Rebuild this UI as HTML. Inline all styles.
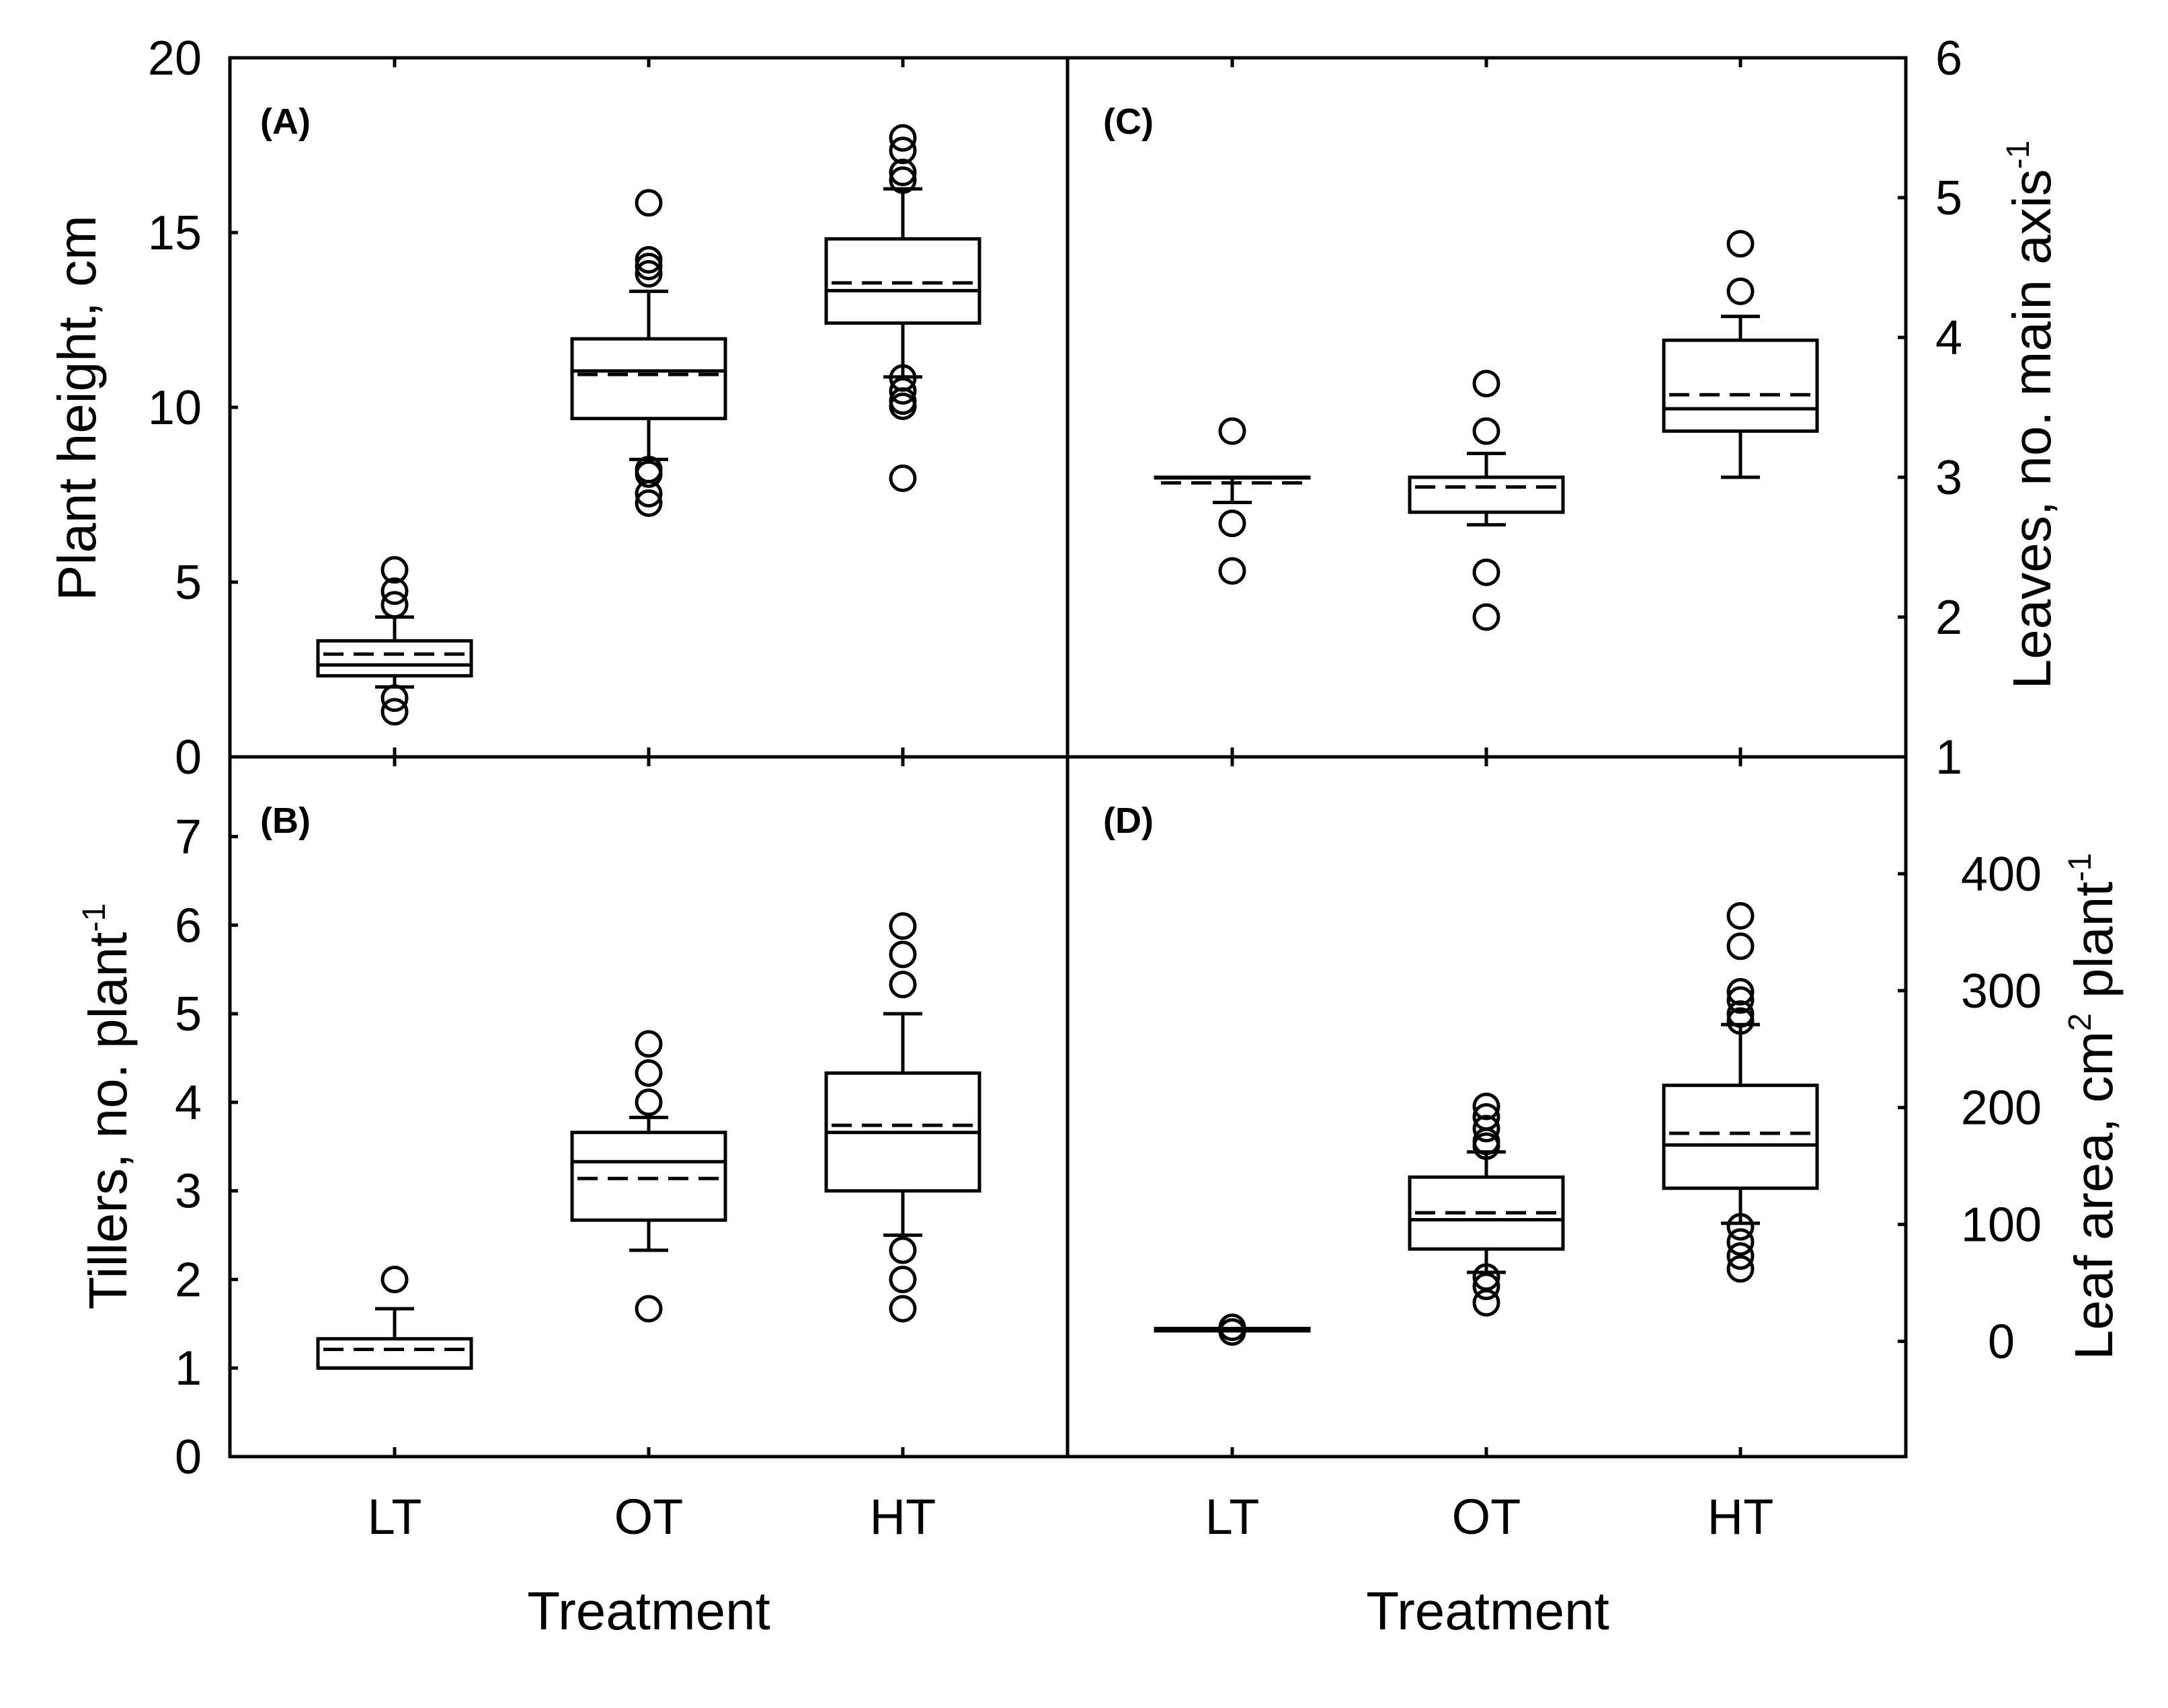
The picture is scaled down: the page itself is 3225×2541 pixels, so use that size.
<!DOCTYPE html>
<html><head><meta charset="utf-8"><style>
html,body{margin:0;padding:0;background:#fff}
svg{display:block}
text{font-family:"Liberation Sans",Arial,sans-serif;fill:#000}
</style></head><body>
<svg id="chart" width="3225" height="2541" viewBox="0 0 3225 2541" xmlns="http://www.w3.org/2000/svg">
<rect x="0" y="0" width="3225" height="2541" fill="#fff"/>
<g id="frame" stroke="#000" stroke-width="5" fill="none">
<rect x="342" y="86" width="2493" height="2081"/>
<line x1="342" y1="1126" x2="2835" y2="1126"/>
<line x1="1588" y1="86" x2="1588" y2="2167"/>
</g>
<text x="387" y="199" font-size="54" font-weight="bold">(A)</text>
<text x="387" y="1239" font-size="54" font-weight="bold">(B)</text>
<text x="1641" y="199" font-size="54" font-weight="bold">(C)</text>
<text x="1641" y="1239" font-size="54" font-weight="bold">(D)</text>
<text transform="translate(142,607) rotate(-90)" text-anchor="middle" font-size="80">Plant height, cm</text>
<text transform="translate(188,1646) rotate(-90)" text-anchor="middle" font-size="80">Tillers, no. plant<tspan dy="-32" font-size="48">-1</tspan></text>
<text transform="translate(3050,617) rotate(-90)" text-anchor="middle" font-size="80">Leaves, no. main axis<tspan dy="-32" font-size="48">-1</tspan></text>
<text transform="translate(3142,1646) rotate(-90)" text-anchor="middle" font-size="80">Leaf area, cm<tspan dy="-32" font-size="48">2</tspan><tspan dy="32"> plant</tspan><tspan dy="-32" font-size="48">-1</tspan></text>
<text x="965" y="2424" text-anchor="middle" font-size="80">Treatment</text>
<text x="2213" y="2424" text-anchor="middle" font-size="80">Treatment</text>
<g id="marks"></g>
</svg>
<script>
const categories = ["LT","OT","HT"];
// Panel A: plant height
const aTicks = [0,5,10,15,20];
const aQ1 = [2.32,9.68,12.41];
const aQ3 = [3.32,11.96,14.82];
const aMed = [2.63,11.04,13.34];
const aMean = [2.94,10.94,13.56];
const aWLo = [2.0,8.51,10.87];
const aWHi = [4.0,13.32,16.25];
const aOut = [[5.35,4.74,4.35,1.68,1.29],[15.85,14.22,14.03,13.82,8.22,8.09,7.53,7.26],[17.71,17.35,16.72,16.5,10.84,10.47,10.18,10.03,7.97]];
// Panel B: tillers
const bTicks = [0,1,2,3,4,5,6,7];
const bQ1 = [1.0,2.67,3.0];
const bQ3 = [1.33,3.66,4.33];
const bMed = [1.0,3.33,3.66];
const bMean = [1.21,3.14,3.74];
const bWLo = [1.0,2.33,2.5];
const bWHi = [1.67,3.83,5.0];
const bOut = [[2.0],[4.66,4.33,4.0,1.67],[5.99,5.67,5.33,2.33,2.0,1.67]];
// Panel C: leaves
const cTicks = [1,2,3,4,5,6];
const cQ1 = [3.0,2.75,3.33];
const cQ3 = [3.0,3.0,3.98];
const cMed = [3.0,3.0,3.49];
const cMean = [2.96,2.93,3.59];
const cWLo = [2.82,2.66,3.0];
const cWHi = [3.0,3.17,4.15];
const cOut = [[3.33,2.67,2.33],[3.67,3.33,2.32,2.0],[4.67,4.33]];
// Panel D: leaf area
const dTicks = [0,100,200,300,400];
const dQ1 = [9,79,131];
const dQ3 = [11,140.5,219];
const dMed = [10,104,168];
const dMean = [10,110,178];
const dWLo = [10,59,101];
const dWHi = [10,162,271];
const dOut = [[12,8],[201,192,182,171,167,55,47,33],[364,338,299,292,280,274,98,85,73,62]];

const NS="http://www.w3.org/2000/svg";
const marks=document.getElementById('marks');
function mk(tag,attrs,parent){const e=document.createElementNS(NS,tag);for(const k in attrs)e.setAttribute(k,attrs[k]);(parent||marks).appendChild(e);return e;}
function linScale(d0,d1,r0,r1){return v=>r0+(v-d0)*(r1-r0)/(d1-d0);}

const panels=[
 {id:'a',x0:342,x1:1588,y0:86,y1:1126,dmin:0,dmax:20,ticks:aTicks,side:'left',q1:aQ1,q3:aQ3,med:aMed,mean:aMean,wlo:aWLo,whi:aWHi,out:aOut},
 {id:'b',x0:342,x1:1588,y0:1126,y1:2167,dmin:0,dmax:7.9,ticks:bTicks,side:'left',q1:bQ1,q3:bQ3,med:bMed,mean:bMean,wlo:bWLo,whi:bWHi,out:bOut},
 {id:'c',x0:1588,x1:2835,y0:86,y1:1126,dmin:1,dmax:6,ticks:cTicks,side:'right',q1:cQ1,q3:cQ3,med:cMed,mean:cMean,wlo:cWLo,whi:cWHi,out:cOut},
 {id:'d',x0:1588,x1:2835,y0:1126,y1:2167,dmin:-98.6,dmax:500,ticks:dTicks,side:'right',q1:dQ1,q3:dQ3,med:dMed,mean:dMean,wlo:dWLo,whi:dWHi,out:dOut}
];
panels.forEach(p=>{
 const y=linScale(p.dmin,p.dmax,p.y1,p.y0);
 const x=i=>p.x0+245+i*378;
 const g=mk('g',{});
 
 
 p.ticks.forEach(t=>{
  const yy=y(t);
  const ax = p.side==='left'?p.x0:p.x1;
  const dir = p.side==='left'?1:-1;
  const tk=mk('line',{x1:ax,x2:ax+dir*12,y1:yy,y2:yy,stroke:'#000','stroke-width':5},g);
  
  
  const lx = p.side==='left'?p.x0-42:(p.id==='c'?p.x1+64:p.x1+142);
  const lb=mk('text',{x:lx,y:yy+25,'font-size':72,'text-anchor':p.side==='left'?'end':'middle'},g);
  lb.textContent=t;
  
  
 });
 categories.forEach((c,i)=>{
  const cx=x(i);
  const t1=mk('line',{x1:cx,x2:cx,y1:p.y0,y2:p.y0+14,stroke:'#000','stroke-width':5},g);
  
  
  const t2=mk('line',{x1:cx,x2:cx,y1:p.y1,y2:p.y1-14,stroke:'#000','stroke-width':5},g);
  
  
  const bg=mk('g',{stroke:'#000','stroke-width':5,fill:'none'},g);
  
  
  const hw=114,cw=29;
  if(p.whi[i]>p.q3[i]){
   mk('line',{x1:cx,x2:cx,y1:y(p.q3[i]),y2:y(p.whi[i])},bg);
   mk('line',{x1:cx-cw,x2:cx+cw,y1:y(p.whi[i]),y2:y(p.whi[i])},bg);
  }
  if(p.wlo[i]<p.q1[i]){
   mk('line',{x1:cx,x2:cx,y1:y(p.q1[i]),y2:y(p.wlo[i])},bg);
   mk('line',{x1:cx-cw,x2:cx+cw,y1:y(p.wlo[i]),y2:y(p.wlo[i])},bg);
  }
  const top=y(p.q3[i]),bot=y(p.q1[i]);
  mk('rect',{x:cx-hw,y:top,width:2*hw,height:Math.max(bot-top,1)},bg);
  mk('line',{x1:cx-hw,x2:cx+hw,y1:y(p.med[i]),y2:y(p.med[i])},bg);
  mk('line',{x1:cx-hw+8,x2:cx+hw,y1:y(p.mean[i]),y2:y(p.mean[i]),'stroke-dasharray':'30 15'},bg);
  p.out[i].forEach((v,k)=>{
   const o=mk('circle',{cx:cx,cy:y(v),r:18},bg);
   
   
  });
  if(p.id==='b'||p.id==='d'){
   const xl=mk('text',{x:cx,y:2282,'font-size':74,'text-anchor':'middle'},g);
   xl.textContent=c;
   
   
  }
 });
});
</script>
</body></html>
